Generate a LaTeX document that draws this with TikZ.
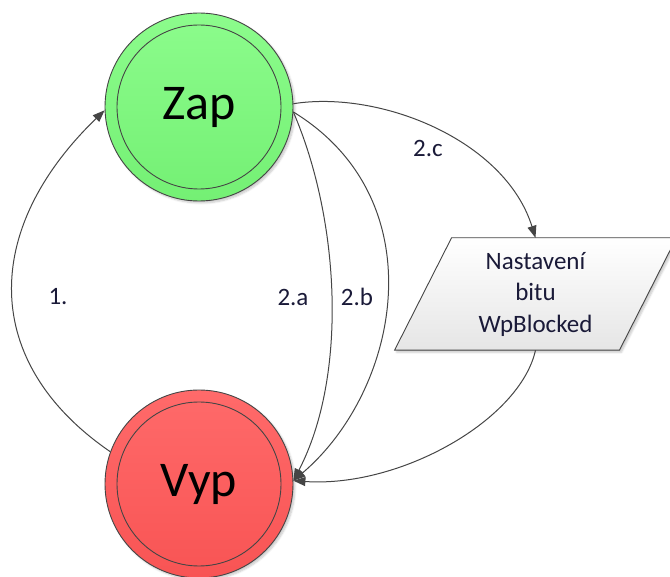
\documentclass[tikz,border=0pt]{standalone}
\usepackage{fontspec}
\setmainfont{Carlito}
\usetikzlibrary{arrows.meta,shadows.blur,calc,backgrounds}

\definecolor{zapTop}{HTML}{8CFC8C}
\definecolor{zapBot}{HTML}{74F074}
\definecolor{vypTop}{HTML}{FF6A6A}
\definecolor{vypBot}{HTML}{F85454}
\definecolor{ink}{HTML}{1A1A38}
\definecolor{edge}{HTML}{454545}

\begin{document}
\begin{tikzpicture}[x=1pt,y=-1pt,
  state/.style={circle, draw=edge, line width=0.9pt, minimum size=188pt,
    inner sep=0pt, font=\fontsize{50}{60}\selectfont, text=black,
    blur shadow={shadow xshift=2pt, shadow yshift=-2pt, shadow opacity=22, shadow blur steps=6}},
  ring/.style={draw=edge, line width=0.9pt},
  conn/.style={draw=edge, line width=1pt, -{Triangle[length=12pt,width=9pt]}},
  lbl/.style={font=\fontsize{25}{30}\selectfont, text=ink},
  para/.style={draw=edge, line width=0.9pt, top color=white, bottom color=black!10,
    blur shadow={shadow xshift=2pt, shadow yshift=-2pt, shadow opacity=22, shadow blur steps=6}}
]
\useasboundingbox (0,0) rectangle (670,577);

% the two states
\node[state, top color=zapTop, bottom color=zapBot] (zap) at (199,107) {Zap};
\node[state, top color=vypTop, bottom color=vypBot] (vyp) at (199,484) {Vyp};
\draw[ring] (zap.center) circle[radius=82pt];
\draw[ring] (vyp.center) circle[radius=82pt];

% action box (parallelogram)
\node[lbl, minimum width=224.5pt, minimum height=112pt, inner sep=0pt, align=center,
      font=\fontsize{25}{31.5}\selectfont] (nast) at (535.5,294)
      {Nastaven\'{\i}\\bitu\\WpBlocked};
\begin{scope}[on background layer]
  \draw[para] ($(nast.north west)+(28.5,0)$) -- ($(nast.north east)+(28.5,0)$)
    -- ($(nast.south east)+(-28.5,0)$) -- ($(nast.south west)+(-28.5,0)$) -- cycle;
\end{scope}

% transitions
\draw[conn] (vyp.160) .. controls (-19,363) and (-19,230) .. (zap.182);
\draw[conn] (zap.-3) .. controls (340,220) and (348,376) .. (vyp.2);
\draw[conn] (zap.-3) .. controls (437,200) and (400,390) .. (vyp.2);
\draw[conn] (zap.2) .. controls (380,90) and (505,140) .. (nast.north);
\draw[conn] (nast.south) .. controls (520,420) and (400,488) .. (vyp.2);

% transition labels
\node[lbl] (l1) at (58,297) {1.};
\node[lbl] (l2a) at (293,297) {2.a};
\node[lbl] (l2b) at (357,297) {2.b};
\node[lbl] (l2c) at (428,148) {2.c};
\end{tikzpicture}
\end{document}
